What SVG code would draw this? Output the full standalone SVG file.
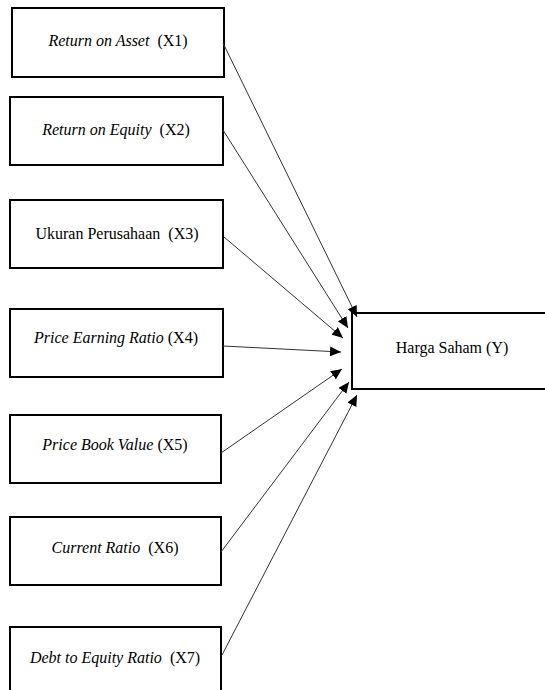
<svg xmlns="http://www.w3.org/2000/svg" width="545" height="690" viewBox="0 0 545 690">
<defs>
<style>
.box{fill:#fff;stroke:#000;stroke-width:2}
.t{font-size:16px;fill:#000;text-anchor:middle;white-space:pre}
.i{font-style:italic}
.c{stroke:#333;stroke-width:1;fill:none;marker-end:url(#ah)}
</style>
<marker id="ah" markerUnits="userSpaceOnUse" markerWidth="12" markerHeight="10" refX="11" refY="5" orient="auto">
<path d="M0,0 L11,5 L0,10 z" fill="#000"/>
</marker>
</defs>
<rect width="545" height="690" fill="#fff"/>
<g font-family="Liberation Serif, serif">
<g id="x1"><rect class="box" x="12" y="8" width="212" height="69"/><text class="t" x="118" y="46" xml:space="preserve"><tspan class="i">Return on Asset</tspan>  (X1)</text></g>
<g id="x2"><rect class="box" x="10" y="97" width="213" height="68"/><text class="t" x="116" y="135" xml:space="preserve"><tspan class="i">Return on Equity</tspan>  (X2)</text></g>
<g id="x3"><rect class="box" x="10" y="200" width="213" height="68"/><text class="t" x="117" y="239" xml:space="preserve">Ukuran Perusahaan  (X3)</text></g>
<g id="x4"><rect class="box" x="10" y="309" width="213" height="68"/><text class="t" x="116" y="343"><tspan class="i">Price Earning Ratio</tspan> (X4)</text></g>
<g id="x5"><rect class="box" x="10" y="415" width="211" height="68"/><text class="t" x="115" y="450"><tspan class="i">Price Book Value</tspan> (X5)</text></g>
<g id="x6"><rect class="box" x="10" y="517" width="211" height="68"/><text class="t" x="115" y="553" xml:space="preserve"><tspan class="i">Current Ratio</tspan>  (X6)</text></g>
<g id="x7"><rect class="box" x="10" y="627" width="211" height="70"/><text class="t" x="115" y="663" xml:space="preserve"><tspan class="i">Debt to Equity Ratio</tspan>  (X7)</text></g>
<g id="y"><rect class="box" x="352" y="313" width="196" height="76"/><text class="t" x="452" y="353">Harga Saham (Y)</text></g>
</g>
<g id="connectors">
<line class="c" x1="223" y1="43" x2="357" y2="317"/>
<line class="c" x1="223" y1="130" x2="348" y2="328"/>
<line class="c" x1="224" y1="237" x2="343" y2="338"/>
<line class="c" x1="223" y1="346" x2="341" y2="352"/>
<line class="c" x1="221" y1="453" x2="342" y2="369"/>
<line class="c" x1="221" y1="552" x2="349" y2="382"/>
<line class="c" x1="222" y1="655" x2="357" y2="395"/>
</g>
</svg>
